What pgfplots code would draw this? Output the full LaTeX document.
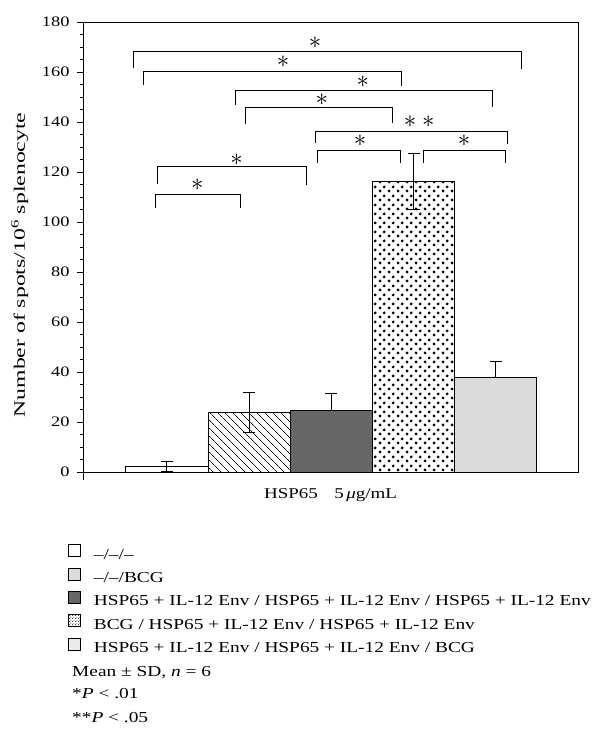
\documentclass[border=0pt]{standalone}
\usepackage{fontspec}
\setmainfont{Liberation Serif}[FakeStretch=1.27]
\newfontfamily\ylabfont{Liberation Serif}[FakeStretch=1.49]
\usepackage{pgfplots}
\pgfplotsset{compat=1.18}
\usetikzlibrary{patterns,patterns.meta}
\pgfdeclarepatternformonly{sdots}{\pgfqpoint{0bp}{0bp}}{\pgfqpoint{9bp}{9bp}}{\pgfqpoint{9bp}{9bp}}{%
  \pgfpathcircle{\pgfqpoint{2.25bp}{2.25bp}}{1.7bp}%
  \pgfpathcircle{\pgfqpoint{6.75bp}{6.75bp}}{1.7bp}%
  \pgfusepath{fill}}
\pgfdeclarepatternformonly{smalldots}{\pgfqpoint{0bp}{0bp}}{\pgfqpoint{3bp}{3bp}}{\pgfqpoint{3bp}{3bp}}{%
  \pgfpathcircle{\pgfqpoint{0.75bp}{0.75bp}}{0.6bp}%
  \pgfpathcircle{\pgfqpoint{2.25bp}{2.25bp}}{0.6bp}%
  \pgfusepath{fill}}
\definecolor{darkbar}{gray}{0.40}
\definecolor{lightbar}{gray}{0.86}
\newcommand{\st}{{\fontsize{24}{24}\selectfont$\ast$}}
\pgfplotsset{
  errb/.style={error bars/.cd, y dir=#1, y explicit, error bar style={line width=0.8bp, black},
    error mark options={rotate=90, line width=0.8bp, mark size=6bp, black}},
}
\begin{document}
\begin{tikzpicture}
\begin{axis}[
  width=495bp, height=450bp, scale only axis,
  xmin=-1.02, xmax=5, ymin=0, ymax=180,
  clip=false,
  axis line style={line width=0.8bp},
  ytick={0,20,...,180}, minor y tick num=3,
  xtick=\empty,
  ytick pos=left,
  tick align=outside,
  major tick length=6bp, minor tick length=3bp,
  tick style={line width=0.8bp, black},
  /pgf/number format/assume math mode=true,
  yticklabel style={font=\fontsize{14.5}{17}\selectfont, xshift=-4bp},
  xlabel={HSP65\hspace{1.1em}5\,\textit{μ}g/mL},
  xlabel style={at={(axis description cs:0.5,-0.029)}, anchor=north, font=\fontsize{15}{18}\selectfont},
  ylabel={Number of spots/10\textsuperscript{6} splenocyte},
  ylabel style={at={(axis description cs:-0.1172,0.46)}, anchor=base, font=\ylabfont\fontsize{16}{18}\selectfont},
  legend style={at={(axis description cs:-0.0303,-0.16)}, anchor=north west, draw=none, fill=none,
    inner sep=0pt, row sep=5.5bp, column sep=13bp,
    nodes={inner sep=0pt, text height=10bp, text depth=3bp},
    font=\fontsize{15.3}{18}\selectfont},
  legend cell align=left,
  legend image code/.code={\draw[#1] (0bp,-1bp) rectangle (12bp,11bp);},
]
% bars
\addplot[ybar, bar width=1, bar shift=0pt, fill=white, draw=black, line width=0.8bp, forget plot,
  errb=both]
  coordinates {(0,2.1) +- (0,2.0)};
\addplot[ybar, bar width=1, bar shift=0pt, fill=white, draw=black, line width=0.8bp, forget plot,
  postaction={pattern={Lines[angle=-45, distance=6bp, line width=0.9bp]}},
  errb=both]
  coordinates {(1,23.7) +- (0,8.0)};
\addplot[ybar, bar width=1, bar shift=0pt, fill=darkbar, draw=black, line width=0.8bp, forget plot,
  errb=plus]
  coordinates {(2,24.5) +- (0,7.0)};
\addplot[ybar, bar width=1, bar shift=0pt, fill=white, draw=black, line width=0.8bp, forget plot,
  postaction={pattern=sdots},
  errb=both]
  coordinates {(3,116.1) +- (0,11.2)};
\addplot[ybar, bar width=1, bar shift=0pt, fill=lightbar, draw=black, line width=0.8bp, forget plot,
  errb=plus]
  coordinates {(4,37.9) +- (0,6.5)};
% significance brackets
\addplot[black, line width=0.8bp, mark=none, forget plot] coordinates {(-0.409,161.5) (-0.409,168.1) (4.316,168.1) (4.316,161.2)};
\addplot[black, line width=0.8bp, mark=none, forget plot] coordinates {(-0.287,154.8) (-0.287,160.4) (2.856,160.4) (2.856,154.4)};
\addplot[black, line width=0.8bp, mark=none, forget plot] coordinates {(0.837,146.8) (0.837,152.8) (3.959,152.8) (3.959,146.1)};
\addplot[black, line width=0.8bp, mark=none, forget plot] coordinates {(0.959,139.2) (0.959,145.7) (2.742,145.7) (2.742,139.5)};
\addplot[black, line width=0.8bp, mark=none, forget plot] coordinates {(1.802,131.5) (1.802,136.4) (4.146,136.4) (4.146,131.2)};
\addplot[black, line width=0.8bp, mark=none, forget plot] coordinates {(1.835,123.5) (1.835,128.8) (2.836,128.8) (2.836,123.5)};
\addplot[black, line width=0.8bp, mark=none, forget plot] coordinates {(3.119,123.5) (3.119,128.8) (4.122,128.8) (4.122,123.5)};
\addplot[black, line width=0.8bp, mark=none, forget plot] coordinates {(-0.112,115.1) (-0.112,122.1) (1.692,122.1) (1.692,114.8)};
\addplot[black, line width=0.8bp, mark=none, forget plot] coordinates {(-0.136,105.5) (-0.136,111.2) (0.889,111.2) (0.889,105.5)};
\node at (axis cs:1.802,171.7) {\st};
\node at (axis cs:1.412,164.1) {\st};
\node at (axis cs:2.382,156.1) {\st};
\node at (axis cs:1.883,149.1) {\st};
\node at (axis cs:2.957,140.1) {\st};
\node at (axis cs:3.180,140.1) {\st};
\node at (axis cs:2.349,132.4) {\st};
\node at (axis cs:3.614,132.4) {\st};
\node at (axis cs:0.849,125.1) {\st};
\node at (axis cs:0.370,114.8) {\st};
% legend
\addlegendimage{fill=white, draw=black, line width=0.7bp}
\addlegendentry{–/–/–}
\addlegendimage{fill=lightbar, draw=black, line width=0.7bp}
\addlegendentry{–/–/BCG}
\addlegendimage{fill=darkbar, draw=black, line width=0.7bp}
\addlegendentry{HSP65 + IL-12 Env / HSP65 + IL-12 Env / HSP65 + IL-12 Env}
\addlegendimage{pattern=smalldots, draw=black, line width=0.7bp}
\addlegendentry{BCG / HSP65 + IL-12 Env / HSP65 + IL-12 Env}
\addlegendimage{fill=lightbar!60, draw=black, line width=0.7bp}
\addlegendentry{HSP65 + IL-12 Env / HSP65 + IL-12 Env / BCG}
\coordinate (O) at (rel axis cs:0,0);
\end{axis}
\draw[line width=0.8bp] (O) -- ++(0,-8bp);
\begin{scope}[every node/.style={anchor=base west, inner sep=0pt, font=\fontsize{15.3}{18}\selectfont}]
\node at ([xshift=-11bp,yshift=-204bp]O) {Mean ± SD, \textit{n} = 6};
\node at ([xshift=-11bp,yshift=-226bp]O) {*\textit{P} < .01};
\node at ([xshift=-11bp,yshift=-250bp]O) {**\textit{P} < .05};
\end{scope}
\path (O) ++(-83bp,-261bp) rectangle ++(595bp,733bp);
\end{tikzpicture}
\end{document}
